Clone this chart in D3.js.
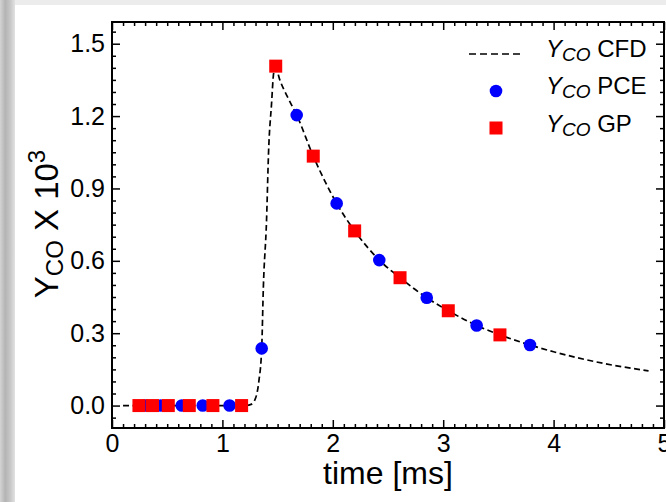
<!DOCTYPE html>
<html>
<head>
<meta charset="utf-8">
<script src="https://cdn.jsdelivr.net/npm/d3@7"></script>
<style>
  html, body { margin: 0; padding: 0; background: #fff; }
  svg { display: block; font-family: "Liberation Sans", Arial, sans-serif; }
</style>
</head>
<body>
<div id="chart"></div>
<script>
// CFD curve (time in ms, Y_CO x 10^3)
const cfdTime = [0.1, 1.2, 1.26, 1.3, 1.33, 1.356, 1.371, 1.4, 1.418, 1.445, 1.465, 1.483, 1.52, 1.6, 1.673, 1.823, 2.035, 2.198, 2.421, 2.609, 2.851, 3.046, 3.303, 3.514, 3.786, 4.0, 4.45, 4.86];
const cfdY = [0, 0, 0.005, 0.03, 0.1, 0.237, 0.49, 0.77, 1.05, 1.25, 1.38, 1.40, 1.35, 1.27, 1.204, 1.034, 0.838, 0.724, 0.603, 0.53, 0.447, 0.393, 0.332, 0.293, 0.251, 0.223, 0.175, 0.144];

// PCE points
const pceTime = [0.30, 0.44, 0.632, 0.822, 1.065, 1.356, 1.673, 2.035, 2.421, 2.851, 3.303, 3.786];
const pceY = [0, 0, 0, 0, 0, 0.237, 1.204, 0.838, 0.603, 0.447, 0.332, 0.251];

// GP points
const gpTime = [0.244, 0.367, 0.51, 0.70, 0.914, 1.174, 1.483, 1.823, 2.198, 2.609, 3.046, 3.514];
const gpY = [0, 0, 0, 0, 0, 0, 1.407, 1.034, 0.724, 0.53, 0.393, 0.293];

const xTicks = [0, 1, 2, 3, 4, 5];
const yTicks = [0.0, 0.3, 0.6, 0.9, 1.2, 1.5];

const W = 666, H = 502;
const svg = d3.select("#chart").append("svg").attr("width", W).attr("height", H);

// grey page edges
const defs = svg.append("defs");
const grad = defs.append("linearGradient").attr("id", "edge").attr("x1", 0).attr("x2", 1);
grad.append("stop").attr("offset", "0").attr("stop-color", "#d4d4d4");
grad.append("stop").attr("offset", "0.35").attr("stop-color", "#b4b4b4");
grad.append("stop").attr("offset", "0.7").attr("stop-color", "#c8c8c8");
grad.append("stop").attr("offset", "1").attr("stop-color", "#e2e2e2");
svg.append("rect").attr("x", 0).attr("y", 0).attr("width", W).attr("height", 5).attr("fill", "#ececec");
svg.append("rect").attr("x", 0).attr("y", 0).attr("width", 15).attr("height", H).attr("fill", "url(#edge)");

const x = d3.scaleLinear().domain([0, 5]).range([112, 664]);
const y = d3.scaleLinear().domain([-0.093, 1.59]).range([428, 22]);

const minorX = d3.range(0, 50).map(i => i / 10).filter(v => !xTicks.includes(v) && v > 0);
const minorY = d3.range(-1, 32).map(i => i * 0.05).filter(v => Math.abs(v * 10 / 3 - Math.round(v * 10 / 3)) > 1e-6);

function styleAxis(g) {
  g.select(".domain").remove();
  g.selectAll(".tick line").attr("stroke", "#000").attr("stroke-width", 1.5);
  g.selectAll(".tick text").attr("fill", "#000").attr("font-size", 25)
    .attr("font-family", "Liberation Sans, Arial, sans-serif");
}

// bottom
svg.append("g").attr("transform", "translate(0,428)")
  .call(d3.axisBottom(x).tickValues(xTicks).tickFormat(d3.format("d")).tickSize(-8).tickPadding(6))
  .call(styleAxis);
svg.append("g").attr("transform", "translate(0,428)")
  .call(d3.axisBottom(x).tickValues(minorX).tickFormat("").tickSize(-4))
  .call(styleAxis);
// top
svg.append("g").attr("transform", "translate(0,22)")
  .call(d3.axisTop(x).tickValues(xTicks).tickFormat("").tickSize(-8))
  .call(styleAxis);
svg.append("g").attr("transform", "translate(0,22)")
  .call(d3.axisTop(x).tickValues(minorX).tickFormat("").tickSize(-4))
  .call(styleAxis);
// left
svg.append("g").attr("transform", "translate(112,0)")
  .call(d3.axisLeft(y).tickValues(yTicks).tickFormat(d3.format(".1f")).tickSize(-8).tickPadding(7))
  .call(styleAxis);
svg.append("g").attr("transform", "translate(112,0)")
  .call(d3.axisLeft(y).tickValues(minorY).tickFormat("").tickSize(-4))
  .call(styleAxis);
// right
svg.append("g").attr("transform", "translate(664,0)")
  .call(d3.axisRight(y).tickValues(yTicks).tickFormat("").tickSize(-8))
  .call(styleAxis);
svg.append("g").attr("transform", "translate(664,0)")
  .call(d3.axisRight(y).tickValues(minorY).tickFormat("").tickSize(-4))
  .call(styleAxis);

// frame
svg.append("rect").attr("x", 112).attr("y", 22).attr("width", 552).attr("height", 406)
  .attr("fill", "none").attr("stroke", "#000").attr("stroke-width", 2);

// CFD line
const line = d3.line().x(d => x(d[0])).y(d => y(d[1])).curve(d3.curveMonotoneX);
svg.append("path").datum(cfdTime.map((t, i) => [t, cfdY[i]]))
  .attr("d", line).attr("fill", "none").attr("stroke", "#000")
  .attr("stroke-width", 1.7).attr("stroke-dasharray", "6,3.5");

// PCE circles
svg.append("g").selectAll("circle").data(pceTime.map((t, i) => [t, pceY[i]])).join("circle")
  .attr("cx", d => x(d[0])).attr("cy", d => y(d[1])).attr("r", 6.3).attr("fill", "#0000ff");

// GP squares
const sq = 13;
svg.append("g").selectAll("rect").data(gpTime.map((t, i) => [t, gpY[i]])).join("rect")
  .attr("x", d => x(d[0]) - sq / 2).attr("y", d => y(d[1]) - sq / 2)
  .attr("width", sq).attr("height", sq).attr("fill", "#ff0000");

// axis titles
svg.append("text").attr("x", 388).attr("y", 484).attr("text-anchor", "middle")
  .attr("font-size", 32).attr("fill", "#000").text("time [ms]");

const yt = svg.append("text").attr("transform", "translate(58,224) rotate(-90)")
  .attr("text-anchor", "middle").attr("font-size", 33).attr("fill", "#000");
yt.append("tspan").text("Y");
yt.append("tspan").attr("font-size", 24).attr("dy", 5).text("CO");
yt.append("tspan").attr("dy", -5).text(" X 10");
yt.append("tspan").attr("font-size", 24).attr("dy", -13).text("3");

// legend
const legendRows = [
  { label: "CFD", y: 57 },
  { label: "PCE", y: 94 },
  { label: "GP", y: 132 }
];
const lg = svg.append("g");
lg.append("line").attr("x1", 469).attr("x2", 523).attr("y1", 54).attr("y2", 54)
  .attr("stroke", "#000").attr("stroke-width", 1.7).attr("stroke-dasharray", "7,4");
lg.append("circle").attr("cx", 496).attr("cy", 91).attr("r", 6.3).attr("fill", "#0000ff");
lg.append("rect").attr("x", 496 - sq / 2).attr("y", 128 - sq / 2).attr("width", sq).attr("height", sq).attr("fill", "#ff0000");
legendRows.forEach(r => {
  const t = lg.append("text").attr("x", 546).attr("y", r.y).attr("font-size", 24).attr("fill", "#000");
  t.append("tspan").attr("font-style", "italic").text("Y");
  t.append("tspan").attr("font-style", "italic").attr("font-size", 19).attr("dy", 4).text("CO");
  t.append("tspan").attr("dy", -4).text(" " + r.label);
});
</script>
</body>
</html>
